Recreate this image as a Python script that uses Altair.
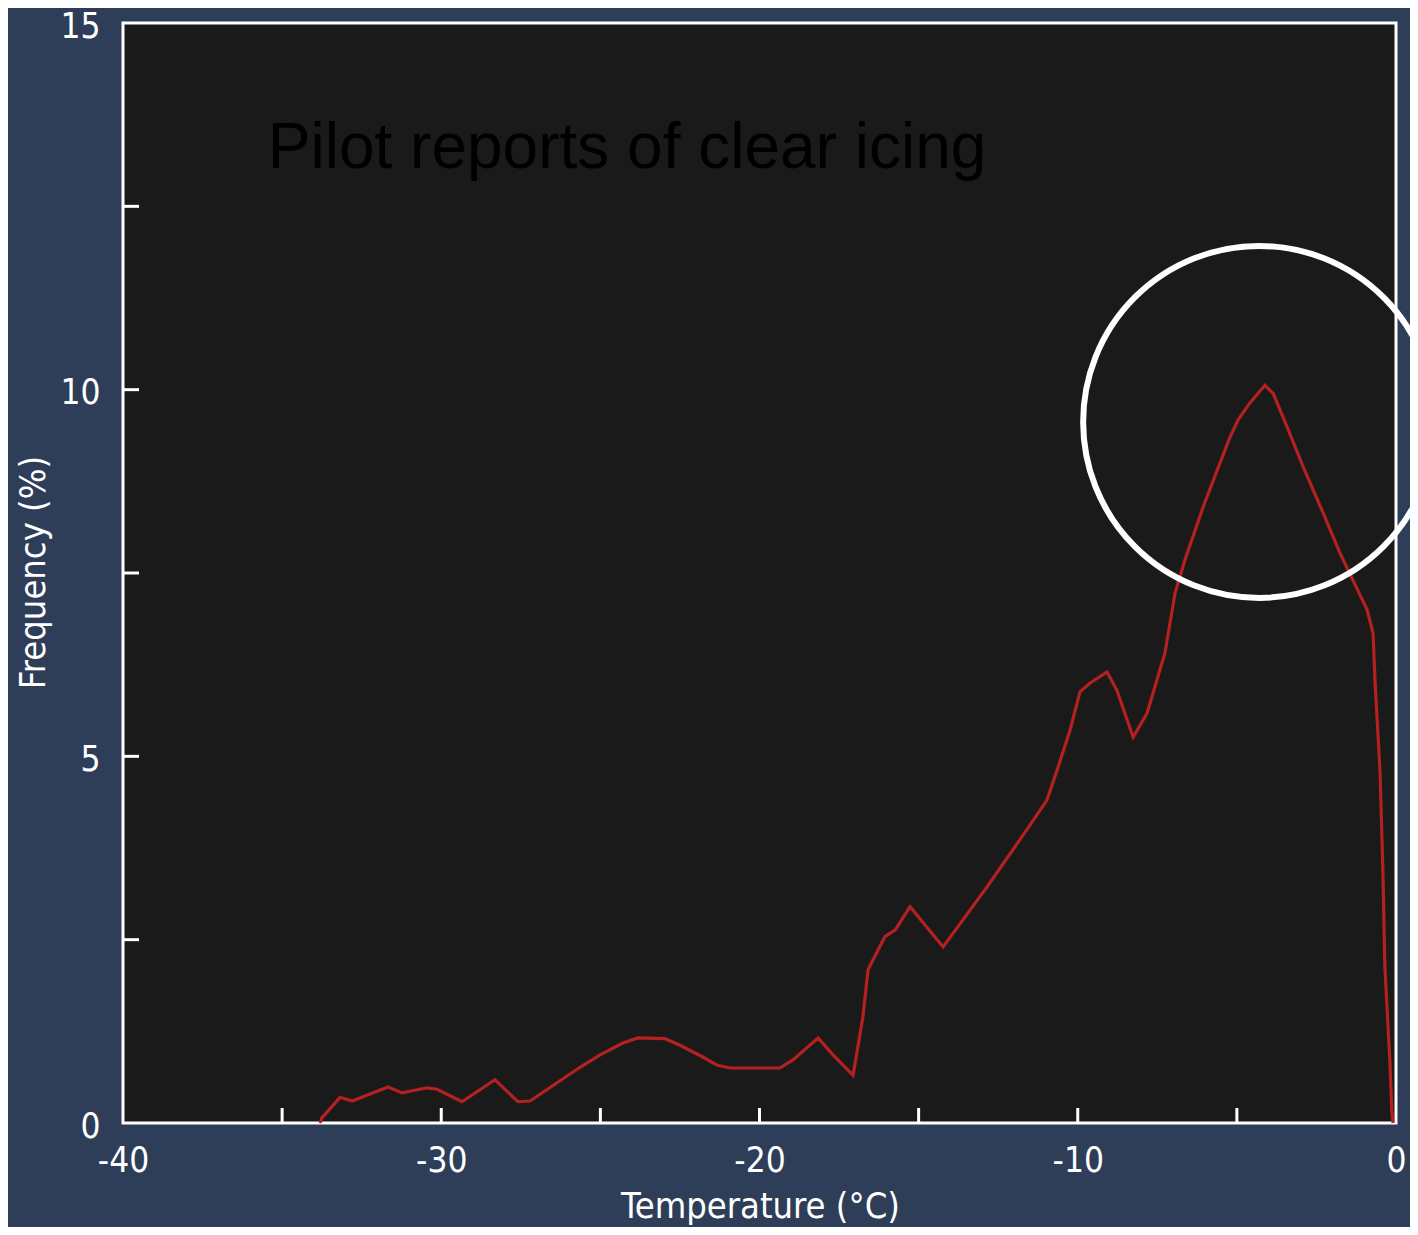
import altair as alt
import pandas as pd

# Line data
temperature = [-33.81, -33.75, -33.18, -32.80, -31.67, -31.23, -30.45, -30.13, -29.35, -28.31,
               -27.59, -27.21, -25.64, -25.01, -24.29, -23.82, -22.97, -22.50, -21.78, -21.34,
               -20.93, -19.36, -18.95, -18.16, -17.69, -17.06, -16.75, -16.59, -16.06, -15.74,
               -15.27, -14.23, -12.85, -11.60, -10.97, -10.65, -10.24, -9.93, -9.61, -9.08,
               -8.77, -8.26, -7.82, -7.26, -6.94, -6.63, -6.06, -5.62, -5.22, -4.96,
               -4.59, -4.12, -3.86, -3.42, -2.92, -2.29, -1.76, -1.35, -0.91, -0.72,
               -0.66, -0.50, -0.41, -0.35, -0.19, -0.13, -0.09]
frequency = [0.00, 0.07, 0.35, 0.30, 0.49, 0.41, 0.48, 0.46, 0.29, 0.59,
             0.29, 0.30, 0.76, 0.93, 1.09, 1.16, 1.15, 1.06, 0.90, 0.79,
             0.75, 0.75, 0.86, 1.16, 0.93, 0.65, 1.45, 2.09, 2.54, 2.63,
             2.95, 2.40, 3.22, 4.00, 4.40, 4.81, 5.36, 5.88, 6.00, 6.15,
             5.90, 5.26, 5.59, 6.41, 7.23, 7.68, 8.40, 8.90, 9.35, 9.59,
             9.82, 10.06, 9.95, 9.49, 8.95, 8.32, 7.77, 7.40, 7.00, 6.68,
             6.04, 4.77, 3.41, 2.13, 0.82, 0.14, 0.00]

x_label_values = [-40, -30, -20, -10, 0]
y_label_values = [0, 5, 10, 15]
x_minor_ticks = [-35, -30, -25, -20, -15, -10, -5]
y_minor_ticks = [2.5, 5, 7.5, 10, 12.5]

annotation_text = ["Pilot reports of clear icing"]
annotation_x = [-35.45]
annotation_y = [13.02]

circle_x = [-4.30]
circle_y = [9.56]

W, H = 1273, 1100
NARROW = "DejaVu Sans Condensed, Liberation Sans Narrow, sans-serif"
LABEL_EXPR = "datum.value < 0 ? '-' + format(abs(datum.value), 'd') : format(datum.value, 'd')"

line_df = pd.DataFrame({"T": temperature, "F": frequency})
xt_df = pd.DataFrame({"v": x_minor_ticks})
yt_df = pd.DataFrame({"v": y_minor_ticks})
ann_df = pd.DataFrame({"t": annotation_text, "x": annotation_x, "y": annotation_y})
circ_df = pd.DataFrame({"x": circle_x, "y": circle_y})

xscale = alt.Scale(domain=[-40, 0], nice=False, zero=False)
yscale = alt.Scale(domain=[0, 15], nice=False, zero=False)

xaxis = alt.Axis(values=x_label_values, ticks=False, domain=False, grid=False,
                 labelExpr=LABEL_EXPR,
                 labelFont=NARROW, labelFontSize=35, labelColor="white",
                 labelPadding=20, labelFlush=False, labelOverlap=False,
                 title="Temperature (°C)", titleFont=NARROW, titleFontSize=36,
                 titleFontWeight="normal", titleColor="white",
                 titleX=637, titleY=83, titleBaseline="middle", titleAlign="center")
yaxis = alt.Axis(values=y_label_values, ticks=False, domain=False, grid=False,
                 labelExpr=LABEL_EXPR,
                 labelFont=NARROW, labelFontSize=35, labelColor="white",
                 labelPadding=23, labelOffset=3, labelFlush=False, labelOverlap=False,
                 title="Frequency (%)", titleFont=NARROW, titleFontSize=36,
                 titleFontWeight="normal", titleColor="white",
                 titleX=-90, titleY=549, titleBaseline="middle", titleAlign="center",
                 titleAngle=270)

line = alt.Chart(line_df).mark_line(color="#b52020", strokeWidth=3.2).encode(
    x=alt.X("T:Q", scale=xscale, axis=xaxis),
    y=alt.Y("F:Q", scale=yscale, axis=yaxis),
)

xticks = alt.Chart(xt_df).mark_rule(color="white", strokeWidth=3).encode(
    x=alt.X("v:Q", scale=xscale), y=alt.value(H), y2=alt.value(H - 15)
)
yticks = alt.Chart(yt_df).mark_rule(color="white", strokeWidth=3).encode(
    y=alt.Y("v:Q", scale=yscale), x=alt.value(0), x2=alt.value(16)
)

ann = alt.Chart(ann_df).mark_text(
    align="left", baseline="alphabetic", font="Liberation Sans, Arial, sans-serif",
    fontSize=64, color="black"
).encode(x=alt.X("x:Q", scale=xscale), y=alt.Y("y:Q", scale=yscale), text="t:N")

circ = alt.Chart(circ_df).mark_point(
    shape="circle", filled=False, size=123904, strokeWidth=6, color="white", opacity=1
).encode(x=alt.X("x:Q", scale=xscale), y=alt.Y("y:Q", scale=yscale))

chart = alt.layer(line, xticks, yticks, ann, circ).properties(
    width=W, height=H,
    background="#2e3e58",
    autosize=alt.AutoSizeParams(type="none"),
    padding={"left": 115, "top": 15, "right": 14, "bottom": 104},
).configure_view(fill="#1a1a1a", stroke="white", strokeWidth=3)

chart.save("out.html", embed_options={"renderer": "svg", "actions": False})
